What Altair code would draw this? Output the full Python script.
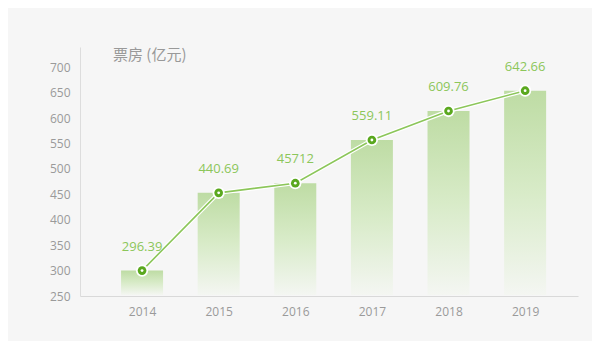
import altair as alt
import pandas as pd

years = [2014, 2015, 2016, 2017, 2018, 2019]
values = [300, 453, 472, 557, 614, 654]
labels = ["296.39", "440.69", "45712", "559.11", "609.76", "642.66"]
y_ticks = [250, 300, 350, 400, 450, 500, 550, 600, 650, 700]

df = pd.DataFrame({"year": years, "value": values, "label": labels})

xs = alt.Scale(domain=[2013.19, 2019.69], nice=False, zero=False, padding=0)
ys = alt.Scale(domain=[250, 740], nice=False, zero=False, padding=0)

x = alt.X("year:Q", scale=xs,
          axis=alt.Axis(values=years, format="d", title=None, grid=False, ticks=False,
                        domainColor="#d9d9d9", labelColor="#9a9a9a", labelFontSize=12,
                        labelPadding=10, labelFont="Open Sans", labelOverlap=False))
y = alt.Y("value:Q", scale=ys,
          axis=alt.Axis(values=y_ticks, title=None, grid=False, ticks=False,
                        domainColor="#dddddd", labelColor="#9a9a9a", labelFontSize=12,
                        labelPadding=10, labelFont="Open Sans", labelOverlap=False,
                        labelBound=False, labelFlush=False))

base = alt.Chart(df).encode(x=x, y=y)

bars = base.mark_bar(
    size=42,
    color=alt.Gradient(
        gradient="linear", x1=0, y1=0, x2=0, y2=1,
        stops=[alt.GradientStop(color="#bedca4", offset=0),
               alt.GradientStop(color="#d8ebc8", offset=0.5),
               alt.GradientStop(color="#f4f6f2", offset=1)]),
).encode(y2=alt.datum(252))

halo = base.mark_line(color="white", strokeWidth=4)
line = base.mark_line(color="#8cc65a", strokeWidth=1.6)
pt_outer = base.mark_point(filled=True, color="white", size=150, opacity=1)
pt_mid = base.mark_point(filled=True, color="#5aa81e", size=75, opacity=1)
pt_inner = base.mark_point(filled=True, color="white", size=8, opacity=1)

text = base.mark_text(dy=-24, color="#8cc65a", fontSize=13, font="Open Sans").encode(
    text="label:N")

title = alt.Chart(pd.DataFrame({"t": ["票房 (亿元)"]})).mark_text(
    align="left", baseline="middle", color="#999999", fontSize=15, font="Noto Sans CJK SC"
).encode(x=alt.value(33), y=alt.value(8), text="t:N")

chart = alt.layer(bars, halo, line, pt_outer, pt_mid, pt_inner, text, title).properties(
    width=498, height=249,
    autosize=alt.AutoSizeParams(type="none"),
    padding={"left": 72, "top": 39, "right": 14, "bottom": 45},
    background="#f6f6f6",
).configure_view(stroke=None).configure_axis(labelOverlap=False)

chart.save("out.html", embed_options={"renderer": "svg", "actions": False})
